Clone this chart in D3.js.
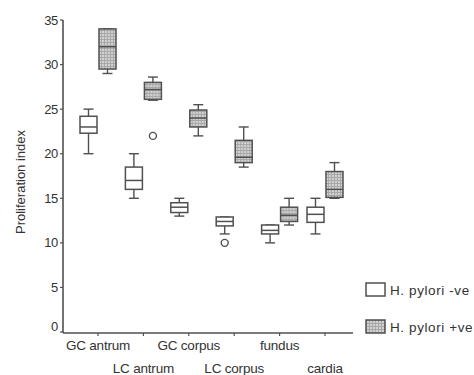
<!DOCTYPE html>
<html>
<head>
<meta charset="UTF-8">
<title>Proliferation index</title>
<style>
  body { margin: 0; background: #fff; }
  text { font-family: "Liberation Sans", Arial, sans-serif; fill: #333; }
</style>
</head>
<body>
<script src="https://cdn.jsdelivr.net/npm/d3@7"></script>
<script>
// categories along the x axis
var categories = ["GC antrum", "LC antrum", "GC corpus", "LC corpus", "fundus", "cardia"];
var series = ["H. pylori -ve", "H. pylori +ve"];
var yTicks = [0, 5, 10, 15, 20, 25, 30, 35];

// box stats per category: [min, q1, median, q3, max]
var negStats = [
  [20, 22.3, 23, 24.2, 25],
  [15, 16, 17, 18.5, 20],
  [13, 13.4, 14, 14.5, 15],
  [11, 11.9, 12.4, 12.9, 12.9],
  [10, 11, 11.4, 12, 12],
  [11, 12.3, 13.2, 14, 15]
];
var posStats = [
  [29, 29.5, 32, 34, 34],
  [26, 26.1, 27.2, 28, 28.6],
  [22, 23, 24, 24.9, 25.5],
  [18.5, 19, 19.6, 21.5, 23],
  [12, 12.4, 13.1, 14, 15],
  [15, 15.1, 16, 18, 19]
];
// outliers: [category, value]
var negOutliers = [["LC corpus", 10]];
var posOutliers = [["LC antrum", 22]];

var width = 474, height = 375;
var svg = d3.select("body").append("svg")
  .attr("width", width).attr("height", height);

var defs = svg.append("defs");
var pat = defs.append("pattern").attr("id", "grid")
  .attr("patternUnits", "userSpaceOnUse").attr("width", 3).attr("height", 3);
pat.append("rect").attr("width", 3).attr("height", 3).attr("fill", "#d2d2d2");
pat.append("path").attr("d", "M0,0.5H3M0.5,0V3").attr("stroke", "#a8a8a8").attr("stroke-width", 1);

var y = d3.scaleLinear().domain([0, 35]).range([332, 20]);
var x = d3.scalePoint().domain(categories).range([98, 325]);
var sub = d3.scaleBand().domain(series).range([-19, 19]);
var bw = sub.bandwidth();

// axes
var ink = "#505050";
svg.append("line").attr("x1", 63).attr("x2", 63).attr("y1", y(35)).attr("y2", 333)
  .attr("stroke", ink).attr("stroke-width", 1.6);
svg.append("line").attr("x1", 63).attr("x2", 353).attr("y1", 333).attr("y2", 333)
  .attr("stroke", ink).attr("stroke-width", 1.6);

var yAxis = svg.append("g");
yAxis.selectAll("line").data(yTicks).enter().append("line")
  .attr("x1", 60).attr("x2", 63).attr("y1", y).attr("y2", y)
  .attr("stroke", ink).attr("stroke-width", 1.2);
yAxis.selectAll("text").data(yTicks).enter().append("text")
  .attr("x", 58).attr("y", function(d){ return d === 0 ? y(d) - 6 : y(d); })
  .attr("dy", "0.35em").attr("text-anchor", "end")
  .style("font-size", "13px").style("letter-spacing", "-0.3px")
  .text(function(d){ return d; });

var xAxis = svg.append("g");
xAxis.selectAll("line").data(categories).enter().append("line")
  .attr("x1", x).attr("x2", x).attr("y1", 333).attr("y2", 336)
  .attr("stroke", ink).attr("stroke-width", 1.2);
xAxis.selectAll("text").data(categories).enter().append("text")
  .attr("x", x)
  .attr("y", function(d, i){ return i % 2 === 0 ? 350 : 373; })
  .attr("text-anchor", "middle")
  .style("font-size", "13.5px").style("letter-spacing", "-0.2px")
  .text(function(d){ return d; });

svg.append("text")
  .attr("transform", "translate(25," + 182 + ") rotate(-90)")
  .attr("text-anchor", "middle")
  .style("font-size", "13px")
  .text("Proliferation index");

// boxes
function drawBoxes(stats, s, fill) {
  var g = svg.append("g");
  var box = g.selectAll("g").data(stats).enter().append("g")
    .attr("transform", function(d, i){ return "translate(" + (x(categories[i]) + sub(s)) + ",0)"; });
  var cx = bw / 2;
  box.append("line").attr("x1", cx).attr("x2", cx)
    .attr("y1", function(d){ return y(d[4]); }).attr("y2", function(d){ return y(d[0]); })
    .attr("stroke", ink).attr("stroke-width", 1.4);
  [0, 4].forEach(function(k){
    box.append("line").attr("x1", cx - 5).attr("x2", cx + 5)
      .attr("y1", function(d){ return y(d[k]); }).attr("y2", function(d){ return y(d[k]); })
      .attr("stroke", ink).attr("stroke-width", 1.4);
  });
  box.append("rect").attr("x", 1).attr("width", bw - 2)
    .attr("y", function(d){ return y(d[3]); })
    .attr("height", function(d){ return y(d[1]) - y(d[3]); })
    .attr("fill", fill).attr("stroke", ink).attr("stroke-width", 1.5);
  box.append("line").attr("x1", 1).attr("x2", bw - 1)
    .attr("y1", function(d){ return y(d[2]); }).attr("y2", function(d){ return y(d[2]); })
    .attr("stroke", ink).attr("stroke-width", 1.5);
}
drawBoxes(negStats, series[0], "#fff");
drawBoxes(posStats, series[1], "url(#grid)");

function drawOutliers(list, s) {
  svg.append("g").selectAll("circle").data(list).enter().append("circle")
    .attr("cx", function(d){ return x(d[0]) + sub(s) + bw / 2; })
    .attr("cy", function(d){ return y(d[1]); })
    .attr("r", 3.5).attr("fill", "#fff").attr("stroke", ink).attr("stroke-width", 1.4);
}
drawOutliers(negOutliers, series[0]);
drawOutliers(posOutliers, series[1]);

// legend
var legend = svg.append("g").selectAll("g").data(series).enter().append("g")
  .attr("transform", function(d, i){ return "translate(366," + (283 + i * 37) + ")"; });
legend.append("rect").attr("width", 19).attr("height", 13)
  .attr("fill", function(d, i){ return i ? "url(#grid)" : "#fff"; })
  .attr("stroke", ink).attr("stroke-width", 1.5);
legend.append("text").attr("x", 24).attr("y", 7).attr("dy", "0.35em")
  .style("font-size", "13.5px").style("letter-spacing", "0.6px")
  .text(function(d){ return d; });
</script>
</body>
</html>
